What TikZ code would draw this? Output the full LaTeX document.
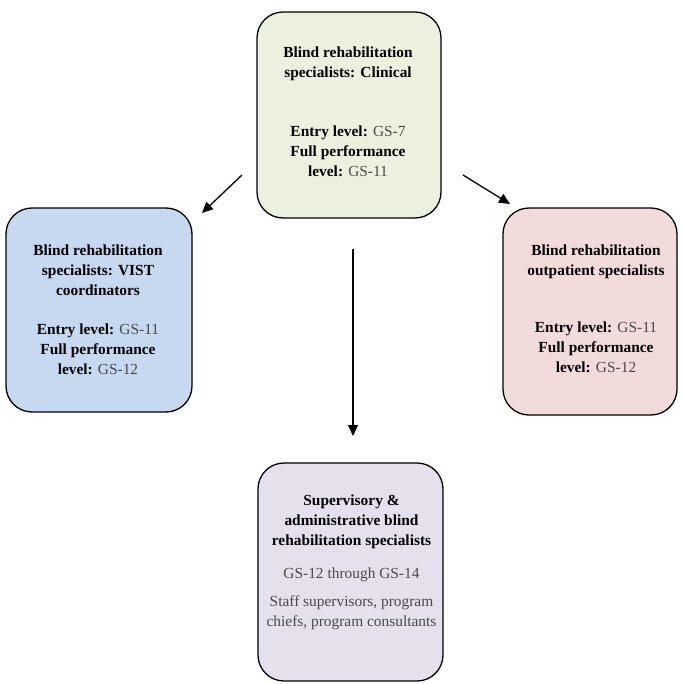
\documentclass[tikz,border=0pt]{standalone}
\usepackage{fontspec}
\setmainfont{Liberation Serif}
\usetikzlibrary{arrows.meta}
\definecolor{gfill}{HTML}{EBF1DE}
\definecolor{bfill}{HTML}{C6D9F1}
\definecolor{pfill}{HTML}{F2DCDB}
\definecolor{lfill}{HTML}{E5E0EC}
\definecolor{gtext}{HTML}{4A4A4A}
\tikzset{
  box/.style={draw=black, line width=1.3pt, rounded corners=26pt, inner sep=0pt},
  txt/.style={align=center, inner sep=0pt, font=\fontsize{15.4}{19.8}\selectfont},
  conn/.style={line width=1.3pt, -{Triangle[length=11pt,width=10pt]}},
}
\newcommand{\gs}[1]{\textcolor{gtext}{#1}}
\begin{document}
\begin{tikzpicture}[x=1pt,y=-1pt]
\useasboundingbox (0,0) rectangle (681,684);
% boxes
\node[box, fill=gfill, minimum width=184pt, minimum height=206pt] (top) at (349,115) {};
\node[box, fill=bfill, minimum width=186pt, minimum height=204pt] (left) at (99,310) {};
\node[box, fill=pfill, minimum width=174pt, minimum height=207pt] (right) at (590,311.5) {};
\node[box, fill=lfill, minimum width=185pt, minimum height=218pt] (bottom) at (350.5,572) {};
% texts
\node[txt] (toptitle) at (348,64) {\textbf{Blind rehabilitation}\\\textbf{specialists: Clinical}};
\node[txt] (topdet) at (348,151.5) {\textbf{Entry level:} \gs{GS-7}\\\textbf{Full performance}\\\textbf{level:} \gs{GS-11}};
\node[txt] (lefttitle) at (98,270) {\textbf{Blind rehabilitation}\\\textbf{specialists: VIST}\\\textbf{coordinators}};
\node[txt] (leftdet) at (98,349.5) {\textbf{Entry level:} \gs{GS-11}\\\textbf{Full performance}\\\textbf{level:} \gs{GS-12}};
\node[txt] (righttitle) at (596,262) {\textbf{Blind rehabilitation}\\\textbf{outpatient specialists}};
\node[txt] (rightdet) at (596,347.5) {\textbf{Entry level:} \gs{GS-11}\\\textbf{Full performance}\\\textbf{level:} \gs{GS-12}};
\node[txt] (bottitle) at (351.5,522) {\textbf{Supervisory \&}\\\textbf{administrative blind}\\\textbf{rehabilitation specialists}};
\node[txt, text=gtext] (botgs) at (351.5,575) {GS-12 through GS-14};
\node[txt, text=gtext] (botstaff) at (351.5,612.5) {Staff supervisors, program\\chiefs, program consultants};
% arrow endpoints
\coordinate (a1s) at (242,175);
\coordinate (a1e) at (202,213);
\coordinate (a2s) at (463,175);
\coordinate (a2e) at (510,204);
\coordinate (a3s) at (353,249);
\coordinate (a3e) at (353,436);
\draw[conn] (a1s) -- (a1e);
\draw[conn] (a2s) -- (a2e);
\draw[conn] (a3s) -- (a3e);
\end{tikzpicture}
\end{document}
